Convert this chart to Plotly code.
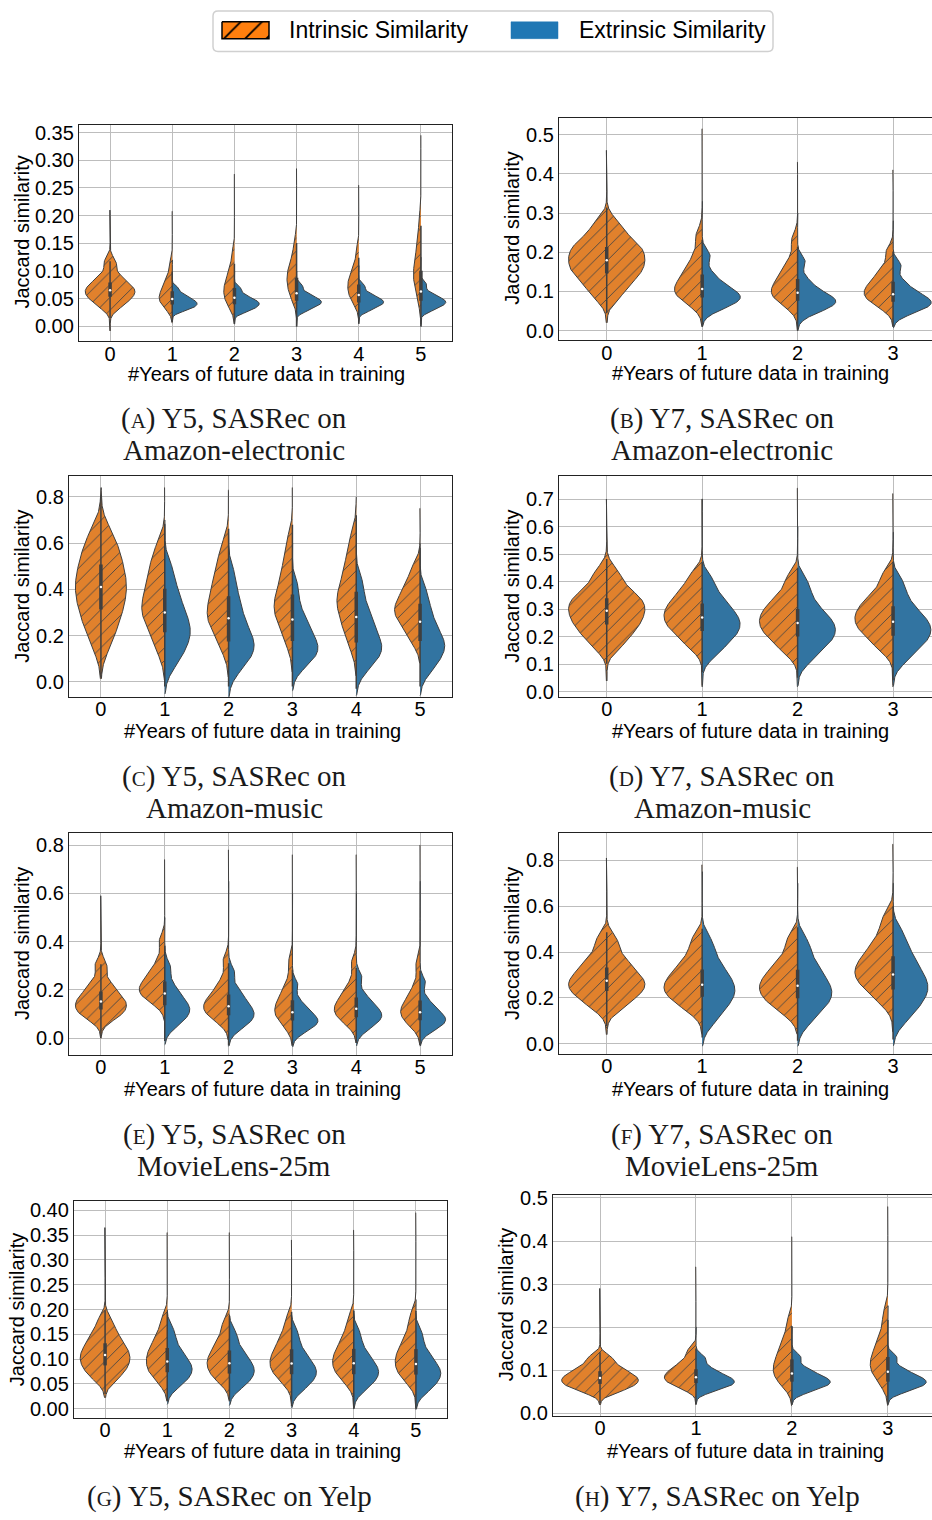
import numpy as np
import plotly.graph_objects as go

ORANGE = "#e1812c"
BLUE = "#3274a1"
EDGE = "#3f3f3f"
SANS = "Liberation Sans, Arial, sans-serif"
SERIF = "Liberation Serif, Times New Roman, serif"

# Each violin: [minimum, 5th, 15th, 25th, ..., 95th percentile, maximum]
# Y5, SASRec on Amazon-electronic
a_intr = [
    [-0.008, 0.035, 0.045, 0.052, 0.058, 0.063, 0.068, 0.074, 0.081, 0.092, 0.115, 0.210],
    [0.010, 0.032, 0.040, 0.046, 0.051, 0.056, 0.062, 0.069, 0.078, 0.090, 0.112, 0.208],
    [0.010, 0.035, 0.045, 0.053, 0.060, 0.067, 0.074, 0.082, 0.092, 0.105, 0.130, 0.275],
    [0.030, 0.048, 0.060, 0.070, 0.078, 0.086, 0.094, 0.102, 0.112, 0.125, 0.150, 0.285],
    [0.020, 0.042, 0.052, 0.060, 0.067, 0.074, 0.081, 0.088, 0.097, 0.110, 0.135, 0.255],
    [0.020, 0.050, 0.065, 0.078, 0.088, 0.098, 0.108, 0.120, 0.135, 0.155, 0.190, 0.345],
]
a_extr = [
    None,
    [0.008, 0.028, 0.033, 0.036, 0.039, 0.042, 0.045, 0.048, 0.052, 0.058, 0.068, 0.120],
    [0.005, 0.026, 0.031, 0.035, 0.038, 0.041, 0.044, 0.047, 0.051, 0.057, 0.068, 0.100],
    [0.000, 0.028, 0.034, 0.038, 0.041, 0.044, 0.047, 0.050, 0.054, 0.060, 0.072, 0.100],
    [0.005, 0.028, 0.034, 0.038, 0.041, 0.044, 0.047, 0.050, 0.054, 0.060, 0.072, 0.110],
    [0.000, 0.028, 0.034, 0.038, 0.041, 0.044, 0.047, 0.050, 0.054, 0.061, 0.075, 0.125],
]
# Y7, SASRec on Amazon-electronic
b_intr = [
    [0.020, 0.090, 0.122, 0.142, 0.157, 0.172, 0.187, 0.202, 0.217, 0.234, 0.270, 0.460],
    [0.010, 0.070, 0.085, 0.095, 0.105, 0.115, 0.128, 0.143, 0.163, 0.190, 0.240, 0.515],
    [0.000, 0.065, 0.080, 0.090, 0.100, 0.110, 0.122, 0.136, 0.155, 0.180, 0.230, 0.430],
    [0.010, 0.060, 0.075, 0.085, 0.094, 0.103, 0.113, 0.125, 0.140, 0.160, 0.200, 0.410],
]
b_extr = [
    None,
    [0.010, 0.055, 0.068, 0.076, 0.083, 0.090, 0.098, 0.108, 0.122, 0.145, 0.190, 0.330],
    [0.000, 0.045, 0.058, 0.066, 0.072, 0.078, 0.085, 0.094, 0.108, 0.130, 0.175, 0.300],
    [0.010, 0.045, 0.056, 0.063, 0.070, 0.076, 0.083, 0.092, 0.105, 0.125, 0.165, 0.280],
]
# Y5, SASRec on Amazon-music
c_intr = [
    [0.020, 0.170, 0.250, 0.300, 0.350, 0.390, 0.430, 0.470, 0.520, 0.570, 0.640, 0.840],
    [0.050, 0.150, 0.220, 0.270, 0.300, 0.330, 0.370, 0.410, 0.460, 0.510, 0.580, 0.840],
    [0.050, 0.160, 0.220, 0.260, 0.290, 0.320, 0.360, 0.400, 0.450, 0.500, 0.580, 0.830],
    [0.080, 0.180, 0.240, 0.280, 0.310, 0.340, 0.370, 0.410, 0.460, 0.520, 0.600, 0.840],
    [0.060, 0.170, 0.230, 0.280, 0.320, 0.350, 0.380, 0.420, 0.470, 0.530, 0.610, 0.800],
    [0.100, 0.180, 0.230, 0.260, 0.290, 0.310, 0.330, 0.360, 0.390, 0.430, 0.490, 0.750],
]
c_extr = [
    None,
    [-0.020, 0.080, 0.130, 0.170, 0.200, 0.230, 0.260, 0.300, 0.340, 0.400, 0.480, 0.700],
    [-0.020, 0.060, 0.100, 0.130, 0.155, 0.180, 0.210, 0.250, 0.300, 0.360, 0.450, 0.650],
    [-0.020, 0.070, 0.100, 0.125, 0.145, 0.165, 0.190, 0.220, 0.260, 0.310, 0.400, 0.600],
    [-0.030, 0.060, 0.100, 0.125, 0.150, 0.170, 0.200, 0.240, 0.280, 0.330, 0.420, 0.600],
    [-0.020, 0.050, 0.090, 0.120, 0.145, 0.165, 0.190, 0.220, 0.260, 0.310, 0.380, 0.600],
]
# Y7, SASRec on Amazon-music
d_intr = [
    [0.040, 0.170, 0.210, 0.240, 0.260, 0.285, 0.305, 0.325, 0.345, 0.375, 0.430, 0.700],
    [0.020, 0.170, 0.210, 0.235, 0.255, 0.275, 0.295, 0.315, 0.340, 0.370, 0.420, 0.700],
    [0.020, 0.150, 0.190, 0.215, 0.235, 0.255, 0.275, 0.295, 0.320, 0.350, 0.410, 0.740],
    [0.020, 0.160, 0.200, 0.225, 0.245, 0.265, 0.285, 0.305, 0.330, 0.360, 0.420, 0.720],
]
d_extr = [
    None,
    [0.020, 0.140, 0.180, 0.205, 0.225, 0.245, 0.265, 0.285, 0.310, 0.345, 0.400, 0.700],
    [0.020, 0.120, 0.160, 0.185, 0.205, 0.225, 0.245, 0.265, 0.290, 0.330, 0.390, 0.600],
    [0.020, 0.120, 0.160, 0.185, 0.205, 0.225, 0.245, 0.265, 0.290, 0.330, 0.390, 0.580],
]
# Y5, SASRec on MovieLens-25m
e_intr = [
    [0.000, 0.080, 0.100, 0.115, 0.130, 0.145, 0.160, 0.175, 0.200, 0.230, 0.300, 0.590],
    [0.100, 0.150, 0.170, 0.185, 0.200, 0.215, 0.230, 0.250, 0.280, 0.320, 0.400, 0.740],
    [0.000, 0.070, 0.095, 0.110, 0.125, 0.140, 0.155, 0.175, 0.200, 0.240, 0.320, 0.780],
    [-0.020, 0.050, 0.075, 0.095, 0.110, 0.125, 0.145, 0.165, 0.190, 0.230, 0.310, 0.760],
    [-0.010, 0.060, 0.085, 0.100, 0.115, 0.130, 0.145, 0.165, 0.190, 0.230, 0.310, 0.760],
    [-0.020, 0.050, 0.075, 0.090, 0.105, 0.120, 0.135, 0.155, 0.180, 0.220, 0.300, 0.800],
]
e_extr = [
    None,
    [-0.020, 0.050, 0.075, 0.095, 0.110, 0.125, 0.140, 0.160, 0.185, 0.220, 0.290, 0.500],
    [-0.030, 0.040, 0.065, 0.080, 0.095, 0.110, 0.125, 0.145, 0.170, 0.200, 0.270, 0.650],
    [-0.030, 0.025, 0.045, 0.058, 0.068, 0.078, 0.090, 0.105, 0.125, 0.155, 0.220, 0.600],
    [-0.020, 0.035, 0.060, 0.075, 0.088, 0.100, 0.113, 0.130, 0.150, 0.180, 0.250, 0.600],
    [-0.030, 0.030, 0.050, 0.062, 0.073, 0.083, 0.095, 0.110, 0.130, 0.160, 0.230, 0.650],
]
# Y7, SASRec on MovieLens-25m
f_intr = [
    [0.040, 0.160, 0.200, 0.225, 0.245, 0.265, 0.285, 0.310, 0.340, 0.380, 0.450, 0.810],
    [0.040, 0.150, 0.190, 0.215, 0.235, 0.255, 0.280, 0.305, 0.335, 0.380, 0.450, 0.780],
    [0.040, 0.140, 0.180, 0.205, 0.230, 0.250, 0.275, 0.300, 0.330, 0.375, 0.450, 0.770],
    [0.050, 0.190, 0.240, 0.270, 0.295, 0.320, 0.345, 0.375, 0.410, 0.460, 0.540, 0.870],
]
f_extr = [
    None,
    [0.000, 0.100, 0.150, 0.185, 0.210, 0.235, 0.260, 0.290, 0.320, 0.370, 0.440, 0.750],
    [0.000, 0.100, 0.150, 0.180, 0.205, 0.230, 0.255, 0.285, 0.320, 0.370, 0.440, 0.700],
    [0.000, 0.110, 0.160, 0.195, 0.225, 0.250, 0.280, 0.310, 0.350, 0.400, 0.470, 0.700],
]
# Y5, SASRec on Yelp
g_intr = [
    [0.030, 0.060, 0.075, 0.085, 0.095, 0.104, 0.113, 0.123, 0.135, 0.150, 0.175, 0.365],
    [0.020, 0.055, 0.070, 0.080, 0.090, 0.100, 0.110, 0.120, 0.133, 0.150, 0.178, 0.355],
    [0.020, 0.055, 0.068, 0.078, 0.087, 0.096, 0.105, 0.115, 0.128, 0.145, 0.172, 0.355],
    [0.010, 0.055, 0.070, 0.080, 0.089, 0.098, 0.108, 0.119, 0.132, 0.150, 0.178, 0.340],
    [0.000, 0.055, 0.070, 0.080, 0.090, 0.099, 0.109, 0.120, 0.133, 0.152, 0.180, 0.360],
    [0.000, 0.055, 0.070, 0.080, 0.090, 0.100, 0.110, 0.121, 0.135, 0.155, 0.185, 0.395],
]
g_extr = [
    None,
    [0.015, 0.045, 0.058, 0.067, 0.075, 0.083, 0.091, 0.100, 0.112, 0.130, 0.155, 0.200],
    [0.015, 0.042, 0.055, 0.064, 0.072, 0.080, 0.088, 0.097, 0.108, 0.125, 0.150, 0.190],
    [0.005, 0.038, 0.052, 0.061, 0.069, 0.077, 0.085, 0.094, 0.106, 0.123, 0.150, 0.190],
    [0.000, 0.038, 0.052, 0.061, 0.069, 0.077, 0.085, 0.094, 0.106, 0.123, 0.150, 0.200],
    [0.000, 0.035, 0.048, 0.058, 0.066, 0.074, 0.082, 0.091, 0.103, 0.120, 0.148, 0.220],
]
# Y7, SASRec on Yelp
h_intr = [
    [0.020, 0.050, 0.060, 0.067, 0.073, 0.079, 0.085, 0.092, 0.100, 0.112, 0.130, 0.290],
    [0.020, 0.058, 0.068, 0.075, 0.081, 0.087, 0.094, 0.101, 0.110, 0.123, 0.145, 0.340],
    [0.020, 0.065, 0.080, 0.091, 0.101, 0.112, 0.124, 0.137, 0.153, 0.175, 0.210, 0.410],
    [0.020, 0.070, 0.088, 0.100, 0.111, 0.122, 0.134, 0.148, 0.165, 0.190, 0.230, 0.480],
]
h_extr = [
    None,
    [0.020, 0.052, 0.060, 0.066, 0.071, 0.076, 0.081, 0.087, 0.095, 0.107, 0.128, 0.200],
    [0.020, 0.050, 0.059, 0.065, 0.070, 0.075, 0.080, 0.086, 0.094, 0.106, 0.130, 0.200],
    [0.020, 0.050, 0.059, 0.065, 0.070, 0.075, 0.080, 0.086, 0.094, 0.106, 0.130, 0.250],
]

years_y5 = [0, 1, 2, 3, 4, 5]
years_y7 = [0, 1, 2, 3]

ticks_a = [0.00, 0.05, 0.10, 0.15, 0.20, 0.25, 0.30, 0.35]
ticks_b = [0.0, 0.1, 0.2, 0.3, 0.4, 0.5]
ticks_c = [0.0, 0.2, 0.4, 0.6, 0.8]
ticks_d = [0.0, 0.1, 0.2, 0.3, 0.4, 0.5, 0.6, 0.7]
ticks_g = [0.00, 0.05, 0.10, 0.15, 0.20, 0.25, 0.30, 0.35, 0.40]

legend_labels = ["Intrinsic Similarity", "Extrinsic Similarity"]


def sc(letter):
    return f"<span style='font-size:21px'>{letter}</span>"


# Panel frames in pixels (left, right, top, bottom) and axis ranges
panels = [
    dict(intr=a_intr, extr=a_extr, years=years_y5, yt=ticks_a, fmt="%.2f",
         px=(79, 452, 118, 337), xr=[-0.5, 5.5], yr=[-0.027, 0.364], right=True,
         ytitle=(22, 227), xtitle=(266, 370), cap=(234, 415, 447),
         caption=[f"({sc('A')}) Y5, SASRec on", "Amazon-electronic"]),
    dict(intr=b_intr, extr=b_extr, years=years_y7, yt=ticks_b, fmt="%.1f",
         px=(559, 932, 111, 336), xr=[-0.5, 3.408], yr=[-0.025, 0.543], right=False,
         ytitle=(512, 223), xtitle=(750, 369), cap=(722, 415, 447),
         caption=[f"({sc('B')}) Y7, SASRec on", "Amazon-electronic"]),
    dict(intr=c_intr, extr=c_extr, years=years_y5, yt=ticks_c, fmt="%.1f",
         px=(69, 452, 473, 696), xr=[-0.5, 5.5], yr=[-0.064, 0.89], right=True,
         ytitle=(22, 585), xtitle=(262, 731), cap=(234, 777, 809),
         caption=[f"({sc('C')}) Y5, SASRec on", "Amazon-music"]),
    dict(intr=d_intr, extr=d_extr, years=years_y7, yt=ticks_d, fmt="%.1f",
         px=(559, 932, 473, 696), xr=[-0.5, 3.408], yr=[-0.017, 0.784], right=False,
         ytitle=(512, 585), xtitle=(750, 731), cap=(722, 777, 809),
         caption=[f"({sc('D')}) Y7, SASRec on", "Amazon-music"]),
    dict(intr=e_intr, extr=e_extr, years=years_y5, yt=ticks_c, fmt="%.1f",
         px=(69, 452, 834, 1058), xr=[-0.5, 5.5], yr=[-0.069, 0.849], right=True,
         ytitle=(22, 946), xtitle=(262, 1092), cap=(234, 1138, 1170),
         caption=[f"({sc('E')}) Y5, SASRec on", "MovieLens-25m"]),
    dict(intr=f_intr, extr=f_extr, years=years_y7, yt=ticks_c, fmt="%.1f",
         px=(559, 932, 834, 1057), xr=[-0.5, 3.408], yr=[-0.044, 0.918], right=False,
         ytitle=(512, 946), xtitle=(750, 1092), cap=(722, 1138, 1170),
         caption=[f"({sc('F')}) Y7, SASRec on", "MovieLens-25m"]),
    dict(intr=g_intr, extr=g_extr, years=years_y5, yt=ticks_g, fmt="%.2f",
         px=(74, 447, 1206, 1425), xr=[-0.5, 5.5], yr=[-0.0185, 0.418], right=True,
         ytitle=(17, 1316), xtitle=(262, 1458), cap=(229, 1504),
         caption=[f"({sc('G')}) Y5, SASRec on Yelp"]),
    dict(intr=h_intr, extr=h_extr, years=years_y7, yt=ticks_b, fmt="%.1f",
         px=(553, 932, 1200, 1423), xr=[-0.49, 3.46], yr=[-0.006, 0.506], right=False,
         ytitle=(506, 1311), xtitle=(745, 1458), cap=(717, 1504),
         caption=[f"({sc('H')}) Y7, SASRec on Yelp"]),
]

W, H = 932, 1520


def density(v):
    """Gaussian KDE over the percentile points (equal mass) plus light tails."""
    body = np.asarray(v[1:-1], dtype=float)
    bw = 0.45 * body.std()
    lo = min(v[0], body[0] - 2.5 * bw)
    hi = max(v[-1], body[-1] + 2.5 * bw)
    grid = np.linspace(lo, hi, 320)
    d = np.zeros_like(grid)
    for b in body:
        d += 0.1 * np.exp(-0.5 * ((grid - b) / bw) ** 2)
    for t in (v[0], v[-1]):
        d += 0.003 * np.exp(-0.5 * ((grid - t) / bw) ** 2)
    return grid, d / (bw * np.sqrt(2 * np.pi))


fig = go.Figure()
layout = {}
annotations = []
shapes = []

for i, p in enumerate(panels):
    k = "" if i == 0 else str(i + 1)
    xa, ya = f"x{k}", f"y{k}"
    L, R, T, B = p["px"]

    wl_x, wl_y, bx_x, bx_y, md_x, md_y = [], [], [], [], [], []
    for j, pos in enumerate(p["years"]):
        vi, ve = p["intr"][j], p["extr"][j]
        gi, di = density(vi)
        peak = di.max()
        if ve is not None:
            ge, de = density(ve)
            peak = max(peak, de.max())
        wi = 0.4 * di / peak
        if ve is None:
            xs = np.concatenate([pos - wi, (pos + wi)[::-1]])
            ys = np.concatenate([gi, gi[::-1]])
        else:
            xs = np.concatenate([[pos], pos - wi, [pos]])
            ys = np.concatenate([[gi[0]], gi, [gi[-1]]])
        fig.add_trace(go.Scatter(
            x=xs, y=ys, xaxis=xa, yaxis=ya, mode="lines", fill="toself",
            fillcolor=ORANGE, line=dict(color=EDGE, width=1),
            fillpattern=dict(shape="/", fgcolor="#454545", bgcolor=ORANGE,
                             size=9, solidity=0.1, fillmode="replace"),
            showlegend=False, hoverinfo="skip"))
        if ve is not None:
            we = 0.4 * de / peak
            xs = np.concatenate([[pos], pos + we, [pos]])
            ys = np.concatenate([[ge[0]], ge, [ge[-1]]])
            fig.add_trace(go.Scatter(
                x=xs, y=ys, xaxis=xa, yaxis=ya, mode="lines", fill="toself",
                fillcolor=BLUE, line=dict(color=EDGE, width=1),
                showlegend=False, hoverinfo="skip"))
        # inner box on the pooled values of this group
        pooled = list(vi[1:-1]) + (list(ve[1:-1]) if ve is not None else [])
        q1, med, q3 = np.percentile(pooled, [25, 50, 75])
        iqr = q3 - q1
        dmin = min(vi[0], ve[0]) if ve is not None else vi[0]
        dmax = max(vi[-1], ve[-1]) if ve is not None else vi[-1]
        lo = max(dmin, q1 - 1.5 * iqr)
        hi = min(dmax, q3 + 1.5 * iqr)
        wl_x += [pos, pos, None]
        wl_y += [lo, hi, None]
        bx_x += [pos, pos, None]
        bx_y += [q1, q3, None]
        md_x.append(pos)
        md_y.append(med)

    fig.add_trace(go.Scatter(x=wl_x, y=wl_y, xaxis=xa, yaxis=ya, mode="lines",
                             line=dict(color=EDGE, width=1.5), showlegend=False,
                             hoverinfo="skip"))
    fig.add_trace(go.Scatter(x=bx_x, y=bx_y, xaxis=xa, yaxis=ya, mode="lines",
                             line=dict(color=EDGE, width=3.5), showlegend=False,
                             hoverinfo="skip"))
    fig.add_trace(go.Scatter(x=md_x, y=md_y, xaxis=xa, yaxis=ya, mode="markers",
                             marker=dict(color="white", size=2.5), showlegend=False,
                             hoverinfo="skip"))

    layout[f"xaxis{k}"] = dict(
        domain=[L / W, R / W], anchor=ya, range=p["xr"],
        tickvals=p["years"], ticktext=[str(y) for y in p["years"]],
        showgrid=True, gridcolor="#bdbdbd", gridwidth=1.2, zeroline=False,
        showline=True, linecolor="#222222", linewidth=1.3, mirror=True,
        ticks="", ticklen=0, ticklabelstandoff=-6,
        tickfont=dict(family=SANS, size=20, color="black"))
    layout[f"yaxis{k}"] = dict(
        domain=[1 - B / H, 1 - T / H], anchor=xa, range=p["yr"],
        tickvals=p["yt"], ticktext=[p["fmt"] % t for t in p["yt"]],
        showgrid=True, gridcolor="#bdbdbd", gridwidth=1.2, zeroline=False,
        showline=True, linecolor="#222222", linewidth=1.3, mirror=p["right"],
        ticks="", ticklen=0, ticklabelstandoff=0,
        tickfont=dict(family=SANS, size=20, color="black"))

    annotations.append(dict(
        text="Jaccard similarity", textangle=-90, xref="paper", yref="paper",
        x=p["ytitle"][0] / W, y=1 - p["ytitle"][1] / H, xanchor="center",
        yanchor="middle", showarrow=False,
        font=dict(family=SANS, size=20, color="black")))
    annotations.append(dict(
        text="#Years of future data in training", xref="paper", yref="paper",
        x=p["xtitle"][0] / W, y=1 - p["xtitle"][1] / H, xanchor="center",
        yanchor="middle", showarrow=False,
        font=dict(family=SANS, size=20, color="black")))
    for line, yc in zip(p["caption"], p["cap"][1:]):
        annotations.append(dict(
            text=line, xref="paper", yref="paper",
            x=p["cap"][0] / W, y=1 - yc / H, xanchor="center",
            yanchor="middle", showarrow=False,
            font=dict(family=SERIF, size=29, color="#1a1a1a")))

# Legend drawn on a hidden pixel-scaled strip at the top
layout["xaxis9"] = dict(domain=[0, 1], range=[0, W], visible=False,
                        fixedrange=True, anchor="y9")
layout["yaxis9"] = dict(domain=[1 - 50 / H, 1], range=[50, 0], visible=False,
                        fixedrange=True, anchor="x9")

x0, x1, y0, y1, r = 213, 773, 3, 44, 5
shapes.append(dict(
    type="path", xref="x9", yref="y9",
    path=(f"M{x0 + r},{y0} L{x1 - r},{y0} Q{x1},{y0} {x1},{y0 + r} "
          f"L{x1},{y1 - r} Q{x1},{y1} {x1 - r},{y1} L{x0 + r},{y1} "
          f"Q{x0},{y1} {x0},{y1 - r} L{x0},{y0 + r} Q{x0},{y0} {x0 + r},{y0} Z"),
    line=dict(color="#d0d0d0", width=1.5), fillcolor="white", layer="below"))

fig.add_trace(go.Scatter(
    x=[222, 269, 269, 222, 222], y=[14, 14, 31, 31, 14], xaxis="x9", yaxis="y9",
    mode="lines", fill="toself", fillcolor="#ff7f0e",
    fillpattern=dict(shape="/", fgcolor="black", bgcolor="#ff7f0e", size=15,
                     solidity=0.12, fillmode="replace"),
    line=dict(color="black", width=1.5), showlegend=False, hoverinfo="skip"))
fig.add_trace(go.Scatter(
    x=[511, 558, 558, 511, 511], y=[14, 14, 31, 31, 14], xaxis="x9", yaxis="y9",
    mode="lines", fill="toself", fillcolor="#1f77b4",
    line=dict(color="#1f77b4", width=0.5), showlegend=False, hoverinfo="skip"))
for label, xl in zip(legend_labels, [287, 577]):
    annotations.append(dict(
        text=label, xref="x9", yref="y9", x=xl, y=22.5, xanchor="left",
        yanchor="middle", showarrow=False,
        font=dict(family=SANS, size=23, color="black")))

fig.update_layout(
    width=W, height=H, margin=dict(l=0, r=0, t=0, b=0),
    paper_bgcolor="white", plot_bgcolor="white", showlegend=False,
    annotations=annotations, shapes=shapes,
    **layout)

fig.write_html("out.html")
